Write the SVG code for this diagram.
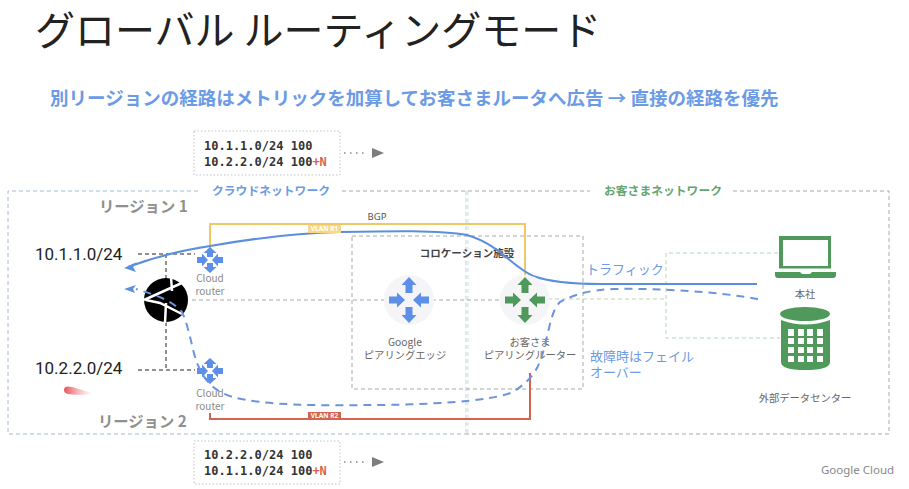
<svg xmlns="http://www.w3.org/2000/svg" width="909" height="489" viewBox="0 0 909 489">
<style>
text{font-family:"Noto Sans CJK JP","Noto Sans",sans-serif}
.lat{font-family:"Noto Sans","Noto Sans CJK JP",sans-serif}
.mono{font-family:"DejaVu Sans Mono","Liberation Mono",monospace;font-size:12px;font-weight:700;fill:#333}
.lbl{font-size:10.300px;fill:#666;text-anchor:middle}
.cr{font-size:10px;fill:#8a8a8a;text-anchor:middle}
.reg{font-size:15.300px;font-weight:700;fill:#8f8f8f}
.ip{font-size:17px;fill:#222;font-family:"Roboto","Noto Sans",sans-serif}
.box{fill:none;stroke:#bfc2c4;stroke-width:1;stroke-dasharray:1.500 2}
.gdash{fill:none;stroke:#a6a9ab;stroke-width:1;stroke-dasharray:4 3}
.bdash{fill:none;stroke:#a3b8d8;stroke-width:1;stroke-dasharray:4 3}
.grdash{fill:none;stroke:#b5d6b6;stroke-width:1;stroke-dasharray:4 3}
.blk{fill:none;stroke:#222;stroke-width:1;stroke-dasharray:4 3}
.tr{fill:none;stroke:#5b8ede;stroke-width:2}
.trd{fill:none;stroke:#6a94dc;stroke-width:2;stroke-dasharray:8 6}
.g{fill:#4f9a5a}
</style>
<defs>
<linearGradient id="laser-fade" x1="0" y1="0" x2="1" y2="0"><stop offset="0" stop-color="#e8505c"/><stop offset="1" stop-color="#f5a5a8" stop-opacity="0"/></linearGradient>
<g id="arrows4">
<path d="M0-23l-7.500 8h4v8h7v-8h4zM0 23l-7.500-8h4v-8h7v8h4zM-4 0l-8-7.500v4h-8v7h8v4zM4 0l8-7.500v4h8v7h-8v4z"/>
</g>
<g id="small4"><path d="M0-13L6.500-7H3V-3H-3V-7H-6.500ZM0 13L6.500 7H3V3H-3V7H-6.500ZM-13-3H-8V-6.500L-2 0-8 6.500V3H-13ZM13-3H8V-6.500L2 0 8 6.500V3H13Z"/></g>
</defs>
<text x="35" y="45" font-size="40" fill="#222" id="title">グローバル ルーティングモード</text>
<text x="50" y="105" font-size="18.500" font-weight="700" fill="#6b9be6" id="subtitle">別リージョンの経路はメトリックを加算してお客さまルータへ広告 → 直接の経路を優先</text>

<g id="network-boxes">
<path class="bdash" d="M198 191H8V434H466"/>
<path class="bdash" d="M466 191V434" stroke-opacity=".7"/>
<path class="grdash" d="M468 191V434" stroke-opacity=".7"/>
<path class="gdash" d="M342 191H590M733 191H889V434H466"/>
<text x="271" y="195" font-size="11.800" font-weight="700" fill="#6b9be6" text-anchor="middle">クラウドネットワーク</text>
<text x="663" y="195" font-size="11.800" font-weight="700" fill="#64a56e" text-anchor="middle">お客さまネットワーク</text>
<text class="reg" x="99" y="212">リージョン 1</text>
<text class="reg" x="98" y="427">リージョン 2</text>
</g>

<g id="colo">
<rect class="gdash" x="352" y="236" width="231" height="153"/>
<text x="467" y="257" font-size="10.500" font-weight="700" fill="#444" text-anchor="middle">コロケーション施設</text>
</g>

<g id="connectors">
<path class="blk" d="M138 254H195M166 254V280M166 322V370M138 370H195"/>
<path class="gdash" d="M192 300H385M432 300H503"/>
<path class="grdash" d="M548 299H666M778 253H666V338H780"/>
<path fill="none" stroke="#eec766" stroke-width="2" d="M210 248V224H525V277"/>
<path fill="none" stroke="#d5634f" stroke-width="2" d="M210 413V419H530V373"/>
<path class="tr" d="M128 267C160 255 190 249 210 246C250 239 290 233 340 232C390 231 440 230 467 235C500 245 510 265 533 276C550 282 570 284 600 284L757 284"/>
<polygon fill="#5b8ede" points="124,268 137,262 133,267 136,272"/>
<polygon fill="#5b8ede" points="124,289 136,285 133,289 135,293"/>
</g>

<g id="vlan-r1"><rect x="308" y="225" width="33" height="8" fill="#f4d98c"/><text x="324.500" y="231" class="lat" font-size="6.500" font-weight="700" fill="#fff" text-anchor="middle">VLAN R1</text></g>
<g id="vlan-r2"><rect x="308" y="412" width="33" height="8" fill="#d5634f"/><text x="324.500" y="418" class="lat" font-size="6.500" font-weight="700" fill="#fff" text-anchor="middle">VLAN R2</text></g>
<text id="bgp" x="377" y="220" class="lat" font-size="9.500" fill="#555" text-anchor="middle">BGP</text>

<g id="route-table-1">
<rect class="box" x="194" y="131" width="146" height="44"/>
<text class="mono" x="204" y="150">10.1.1.0/24 100</text>
<text class="mono" x="204" y="166">10.2.2.0/24 100<tspan fill="#d5634f">+N</tspan></text>
<path d="M344 153H367" fill="none" stroke="#888" stroke-width="1.500" stroke-dasharray="1.500 4.500"/>
<polygon points="372,148 384,153 372,158" fill="#7d7d7d"/>
</g>
<g id="route-table-2">
<rect class="box" x="194" y="441" width="146" height="43"/>
<text class="mono" x="204" y="459">10.2.2.0/24 100</text>
<text class="mono" x="204" y="475">10.1.1.0/24 100<tspan fill="#d5634f">+N</tspan></text>
<path d="M344 462H367" fill="none" stroke="#888" stroke-width="1.500" stroke-dasharray="1.500 4.500"/>
<polygon points="372,457 384,462 372,467" fill="#7d7d7d"/>
</g>

<g id="ip-1"><text class="ip" x="35" y="260">10.1.1.0/24</text></g>
<g id="ip-2"><text class="ip" x="35" y="374">10.2.2.0/24</text></g>
<path id="laser" d="M64 390C64 386 68 386 72 387C80 389 88 392 94 394C86 395 72 395 68 394C65 393 64 392 64 390Z" fill="url(#laser-fade)"/>

<g id="vpc-router">
<circle cx="166" cy="300" r="22" fill="#000"/>
<path d="M144 300L184 282M146 300L160 303L182 314M171 277L172 291M166 303L165 323" stroke="#fff" stroke-width="2.500" fill="none"/>
</g>

<g id="cloud-router-1">
<use href="#small4" x="210" y="260" fill="#5b8fe8"/>
<text class="cr" x="210" y="282">Cloud</text><text class="cr" x="210" y="295">router</text>
</g>
<g id="cloud-router-2">
<use href="#small4" x="210" y="371" fill="#5b8fe8"/>
<text class="cr" x="210" y="397">Cloud</text><text class="cr" x="210" y="410">router</text>
</g>
<g id="peering-edge">
<circle cx="409" cy="300" r="25" fill="#f5f4f7"/>
<use href="#arrows4" x="409" y="300" fill="#5b8fe8"/>
<text class="lbl" x="405" y="346">Google</text><text class="lbl" x="405" y="359">ピアリングエッジ</text>
</g>
<g id="peering-router">
<circle cx="525" cy="300" r="25" fill="#f5f4f7"/>
<use href="#arrows4" x="525" y="300" fill="#4f9a5a"/>
<text class="lbl" x="530" y="346">お客さま</text><text class="lbl" x="530" y="359">ピアリングルーター</text>
</g>
<g id="hq">
<path class="g" d="M779 236H831V268.500H779ZM783 240V266H828V240Z" fill-rule="evenodd"/>
<path class="g" d="M775 272H800L802 274H810L812 272H836V275Q836 278 833 278H778Q775 278 775 275Z"/>
<text class="lbl" x="805" y="298">本社</text>
</g>
<g id="dc">
<ellipse class="g" cx="805" cy="314" rx="25" ry="7"/>
<path class="g" d="M781 320Q805 329 830 320V362Q830 370 805 370Q781 370 781 362Z"/>
<path d="M788 329h6v7h-6zM798 329h6v7h-6zM807 329h6v7h-6zM817 329h6v7h-6zM788 338h6v6h-6zM798 338h6v6h-6zM807 338h6v6h-6zM817 338h6v6h-6zM788 347h6v6h-6zM798 347h6v6h-6zM807 347h6v6h-6zM817 347h6v6h-6zM788 356h6v6h-6zM798 356h6v6h-6zM807 356h6v6h-6zM817 356h6v6h-6z" fill="#fff"/>
<text class="lbl" x="805" y="402">外部データセンター</text>
</g>
<path id="failover-path" class="trd" d="M758 299C720 292 660 288 613 289C590 290 575 294 560 302C552 310 550 325 545 345C540 365 535 378 513 392C490 402 420 405 367 405C320 406 260 405 233 397C215 392 205 382 197 363C192 350 190 330 182 312C172 300 155 295 136 289"/>
<text id="traffic" x="586" y="274" font-size="13" fill="#6b9be6">トラフィック</text>
<text id="failover" font-size="13" fill="#6b9be6"><tspan x="590" y="361">故障時はフェイル</tspan><tspan x="590" y="377">オーバー</tspan></text>
<text id="brand" x="821" y="474" class="lat" font-size="11.500" fill="#888">Google Cloud</text>
</svg>
